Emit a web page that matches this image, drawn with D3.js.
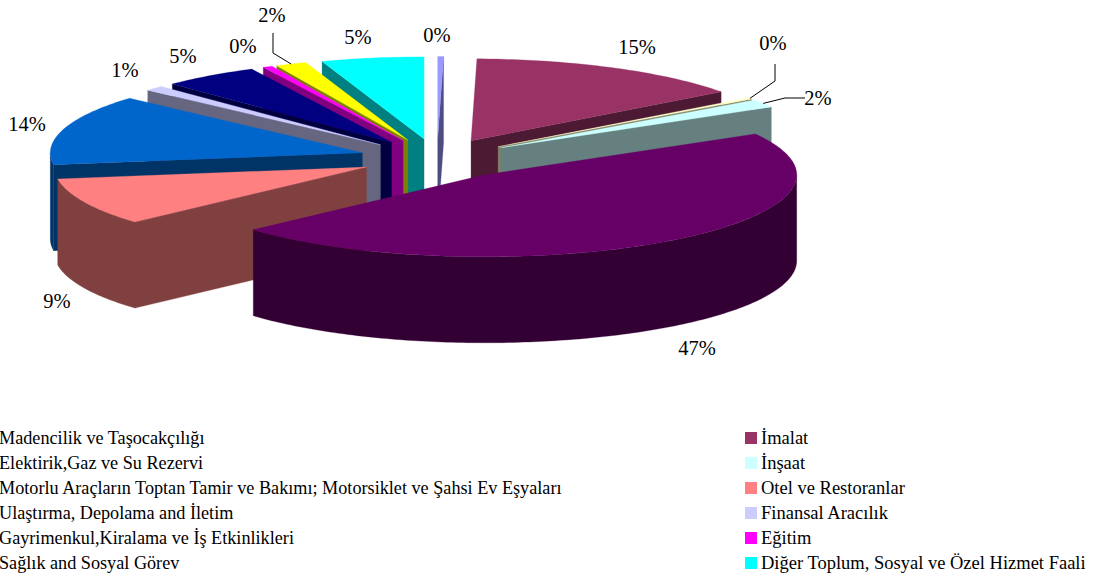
<!DOCTYPE html>
<html>
<head>
<meta charset="utf-8">
<script src="https://cdn.jsdelivr.net/npm/d3@7"></script>
<style>
	body { margin: 0; background: #fff; overflow: hidden; }
	text { font-family: "Liberation Serif", serif; fill: #000; }
</style>
</head>
<body>
<script>
var categories = ["Madencilik ve Taşocakçılığı", "İmalat", "Elektirik,Gaz ve Su Rezervi", "İnşaat",
	"Motorlu Araçların Toptan Tamir ve Bakımı; Motorsiklet ve Şahsi Ev Eşyaları", "Otel ve Restoranlar",
	"Ulaştırma, Depolama and İletim", "Finansal Aracılık", "Gayrimenkul,Kiralama ve İş Etkinlikleri", "Eğitim",
	"Sağlık and Sosyal Görev", "Diğer Toplum, Sosyal ve Özel Hizmet Faaliyetleri"];
var values = [0.3, 14.5, 0.3, 1.6, 46.6, 9.4, 13.9, 1, 5, 0.5, 1.6, 5.3];
var percentLabels = ["0%", "15%", "0%", "2%", "47%", "9%", "14%", "1%", "5%", "0%", "2%", "5%"];
var topColors = ["#9999ff", "#993366", "#ffffcc", "#ccffff", "#660066", "#ff8080",
	"#0066cc", "#ccccff", "#000080", "#ff00ff", "#ffff00", "#00ffff"];
var sideColors = ["#4d4d80", "#4d1a33", "#808066", "#668080", "#330033", "#804040",
	"#003366", "#666680", "#000040", "#800080", "#808000", "#008080"];

// label centres, hand placed like the original
var labelPos = [[437, 35], [637, 47], [773, 43], [818, 98], [697, 348], [57, 301],
	[27, 124], [125, 70], [183, 56], [243, 46], [272, 15], [358, 37]];
// leader elbows, only three labels have one
var leaders = { 2: [[775, 64], [775, 81]], 3: [[805, 98], [785, 98]], 10: [[273, 33], [273, 53]] };

var width = 1098, height = 581;
var cx = 437, cy = 158.6;     // pie centre before the slices are pulled out
var rx = 312, ry = 82;        // flattened radius
var explodeX = 78, explodeY = 20;
var depth = 86;

var svg = d3.select("body").append("svg").attr("width", width).attr("height", height);

var pie = d3.pie().sort(null).value(function (d) { return d; });
var slices = pie(values).map(function (s) {
	s.mid = (s.startAngle + s.endAngle) / 2;
	// right hand slices get pulled a bit further the closer they are to the viewer
	var pull = Math.sin(s.mid) > 0 ? explodeX * (1 - 0.05 * Math.cos(s.mid)) : explodeX;
	s.ox = cx + pull * Math.sin(s.mid);
	s.oy = cy - explodeY * Math.cos(s.mid);
	return s;
});

function rim(s, a) {
	return [s.ox + rx * Math.sin(a), s.oy - ry * Math.cos(a)];
}
function arcPoints(s, a0, a1) {
	var n = Math.max(2, Math.ceil((a1 - a0) * 60));
	return d3.range(n + 1).map(function (i) { return rim(s, a0 + (a1 - a0) * i / n); });
}
function down(p) { return [p[0], p[1] + depth]; }
var line = d3.line();

// back to front
var ordered = slices.slice().sort(function (a, b) {
	return d3.descending(Math.cos(a.mid), Math.cos(b.mid));
});

var sliceGroups = svg.selectAll(".slice")
	.data(ordered)
	.enter()
	.append("g")
	.classed("slice", true);

sliceGroups.each(function (s) {
	var g = d3.select(this);
	var side = sideColors[s.index];
	var apex = [s.ox, s.oy];

	function wall(a) {
		var p = rim(s, a);
		g.append("path")
			.attr("d", line([apex, p, down(p), down(apex)]) + "Z")
			.attr("fill", side).attr("stroke", side).attr("stroke-width", 0.3);
	}
	if (Math.sin(s.startAngle) < 0) wall(s.startAngle);
	if (Math.sin(s.endAngle) > 0) wall(s.endAngle);

	// outer skin, only the part facing us
	var a0 = Math.max(s.startAngle, Math.PI / 2), a1 = Math.min(s.endAngle, Math.PI * 1.5);
	if (a1 > a0) {
		var pts = arcPoints(s, a0, a1);
		g.append("path")
			.attr("d", line(pts.concat(pts.slice().reverse().map(down))) + "Z")
			.attr("fill", side).attr("stroke", side).attr("stroke-width", 0.3);
	}

	g.append("path")
		.attr("d", line([apex].concat(arcPoints(s, s.startAngle, s.endAngle))) + "Z")
		.attr("fill", topColors[s.index])
		.attr("stroke", topColors[s.index]).attr("stroke-width", 0.3);
});

// leader lines run from the elbow to the middle of the slice rim
Object.keys(leaders).forEach(function (k) {
	var s = slices[+k];
	svg.append("path")
		.attr("d", line(leaders[k].concat([rim(s, s.mid)])))
		.attr("fill", "none").attr("stroke", "#000").attr("stroke-width", 1);
});

svg.selectAll(".pct")
	.data(percentLabels)
	.enter()
	.append("text")
	.classed("pct", true)
	.attr("x", function (d, i) { return labelPos[i][0]; })
	.attr("y", function (d, i) { return labelPos[i][1]; })
	.attr("dy", "0.34em")
	.attr("text-anchor", "middle")
	.attr("font-size", 20.5)
	.text(function (d) { return d; });

// legend, two columns. The left swatches fall off the page in the original.
svg.append("clipPath").attr("id", "legend-clip")
	.append("rect").attr("x", 0).attr("y", 420).attr("width", 1085).attr("height", 161);

var rowY = d3.scalePoint().domain(d3.range(6)).range([438, 563]);
var legend = svg.append("g").attr("clip-path", "url(#legend-clip)");
var rows = legend.selectAll(".legend-row")
	.data(categories)
	.enter()
	.append("g")
	.classed("legend-row", true)
	.attr("transform", function (d, i) {
		return "translate(" + (i % 2 ? 745 : -17) + "," + rowY(Math.floor(i / 2)) + ")";
	});
rows.append("rect")
	.attr("y", -6).attr("width", 12).attr("height", 12)
	.attr("fill", function (d, i) { return topColors[i]; });
rows.append("text")
	.attr("x", 16).attr("dy", "0.34em")
	.attr("font-size", function (d, i) { return i % 2 ? 18.5 : 18.2; })
	.text(function (d) { return d; });
</script>
</body>
</html>
